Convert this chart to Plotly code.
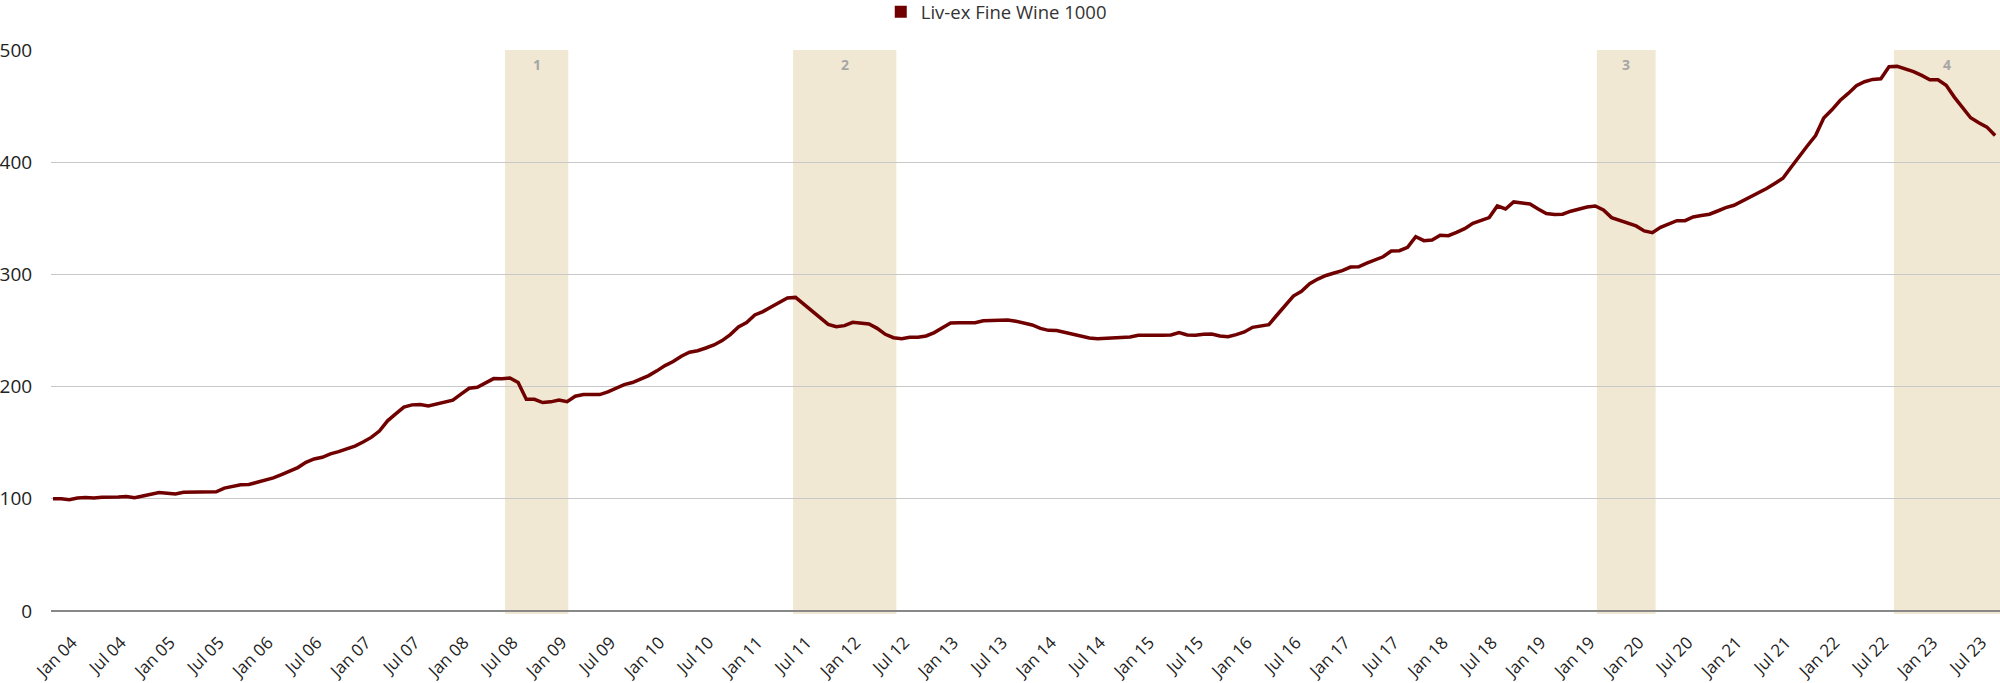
import pandas as pd
import plotly.graph_objects as go

# Monthly index values, Dec 2003 .. Oct 2023
values = [
    100.0, 100.0, 99.1, 100.6, 101.2, 100.7, 101.3, 101.2, 101.6, 102.1,
    100.9, 102.4, 104.1, 105.5, 105.0, 104.3, 105.8, 105.8, 105.6, 105.9,
    106.2, 109.5, 111.2, 112.4, 112.7, 114.8, 117.2, 118.6, 121.6, 124.3,
    127.8, 132.5, 135.5, 137.0, 140.0, 142.0, 144.7, 147.0, 150.6, 154.7,
    160.4, 169.5, 175.7, 181.7, 183.7, 184.0, 182.8, 184.3, 186.4, 187.9,
    193.2, 198.5, 199.4, 203.0, 207.1, 207.0, 207.7, 203.6, 188.7, 188.7,
    185.8, 186.4, 188.1, 186.6, 191.4, 192.9, 192.9, 192.9, 195.3, 198.5,
    201.8, 203.6, 206.5, 209.8, 214.0, 218.7, 222.3, 227.0, 230.6, 232.0,
    234.4, 237.1, 241.0, 246.3, 253.1, 257.0, 263.8, 266.8, 270.9, 275.0,
    278.9, 279.5, 273.3, 267.0, 260.8, 255.5, 253.4, 254.3, 257.3, 256.7,
    255.8, 251.9, 246.6, 243.6, 242.7, 243.9, 243.9, 245.1, 248.1, 252.5,
    256.7, 257.0, 257.0, 257.0, 258.7, 258.8, 259.1, 259.3, 258.2, 256.7,
    254.9, 251.9, 250.1, 249.9, 248.1, 246.3, 244.5, 243.3, 242.7, 243.2,
    243.6, 244.2, 244.2, 245.7, 245.5, 245.4, 245.7, 246.0, 248.1, 246.0,
    245.7, 246.6, 246.9, 245.1, 244.5, 246.3, 248.7, 252.8, 254.3, 255.2,
    263.8, 272.4, 280.7, 284.9, 291.7, 295.8, 299.0, 301.2, 303.3, 306.5,
    306.8, 310.1, 313.1, 315.7, 320.8, 321.1, 324.1, 333.6, 330.1, 330.7,
    334.8, 334.5, 337.5, 340.8, 345.5, 348.2, 350.6, 361.0, 358.3, 364.6,
    364.0, 362.8, 358.3, 354.2, 353.3, 353.6, 356.3, 358.3, 360.1, 361.0,
    357.4, 350.6, 348.2, 345.8, 343.2, 338.7, 337.2, 342.0, 344.9, 347.9,
    347.9, 351.2, 352.4, 353.6, 356.5, 359.5, 361.6, 365.2, 369.6, 372.9,
    376.5, 381.0, 385.7, 395.5, 404.5, 414.6, 423.8, 439.3, 446.7, 455.0,
    461.3, 468.2, 471.7, 473.8, 474.4, 485.1, 485.4, 483.0, 480.7, 477.4,
    473.5, 473.5, 468.5, 458.0, 448.5, 439.6, 435.1, 431.3, 423.8,
]
months = list(pd.date_range("2003-12-01", periods=len(values), freq="MS").strftime("%b %y"))

tick_months = [m for m in months if m.startswith("Jan") or m.startswith("Jul")]
tick_labels = [
    "Jan 04", "Jul 04", "Jan 05", "Jul 05", "Jan 06", "Jul 06", "Jan 07", "Jul 07",
    "Jan 08", "Jul 08", "Jan 09", "Jul 09", "Jan 10", "Jul 10", "Jan 11", "Jul 11",
    "Jan 12", "Jul 12", "Jan 13", "Jul 13", "Jan 14", "Jul 14", "Jan 15", "Jul 15",
    "Jan 16", "Jul 16", "Jan 17", "Jul 17", "Jan 18", "Jul 18", "Jan 19", "Jan 19",
    "Jan 20", "Jul 20", "Jan 21", "Jul 21", "Jan 22", "Jul 22", "Jan 23", "Jul 23",
]

# Shaded periods (in month-category units) and their labels
period_labels = ["1", "2", "3", "4"]
period_start = [55.4, 90.7, 189.2, 225.6]
period_end = [63.15, 103.35, 196.4, 238.7]

series_name = "Liv-ex Fine Wine 1000"
line_color = "#700000"
shade_color = "#F0E8D2"
font_family = "Open Sans, Noto Sans, sans-serif"

fig = go.Figure()
fig.add_trace(go.Scatter(
    x=months, y=values, mode="lines", name=series_name,
    line=dict(color=line_color, width=3.5), showlegend=False,
))
# legend entry with square swatch
fig.add_trace(go.Scatter(
    x=[None], y=[None], mode="markers", name=series_name,
    marker=dict(symbol="square", size=12, color=line_color), showlegend=True,
))

for lab, x0, x1 in zip(period_labels, period_start, period_end):
    fig.add_shape(type="rect", xref="x", yref="y", x0=x0, x1=x1, y0=-2.7, y1=500,
                  fillcolor=shade_color, line=dict(width=0), layer="below")
    fig.add_annotation(x=(x0 + x1) / 2, y=487.5, xref="x", yref="y", text=lab,
                       showarrow=False,
                       font=dict(family=font_family, size=14, color="#a6a6a6", weight="bold"))

fig.update_layout(
    width=2000, height=683,
    margin=dict(l=51, r=0, t=50, b=69, autoexpand=False),
    paper_bgcolor="white", plot_bgcolor="white",
    font=dict(family=font_family, color="#222222"),
    legend=dict(orientation="h", x=0.485, xanchor="center", y=1.067, yanchor="middle",
                font=dict(size=18.5, color="#333333"), bgcolor="rgba(0,0,0,0)"),
    xaxis=dict(
        type="category", range=[-0.245, 238.6],
        tickmode="array", tickvals=tick_months, ticktext=tick_labels,
        tickangle=-45, tickfont=dict(size=17, color="#222222"),
        ticks="outside", ticklen=11, tickcolor="rgba(0,0,0,0)", ticklabelshift=11,
        showgrid=False, zeroline=False, showline=False, automargin=False,
    ),
    yaxis=dict(
        range=[-2.7, 500], tickvals=[0, 100, 200, 300, 400, 500],
        tickfont=dict(size=19, color="#222222"),
        ticks="outside", ticklen=14, tickcolor="rgba(0,0,0,0)",
        showgrid=True, gridcolor="#c8c8c8", gridwidth=1,
        zeroline=True, zerolinecolor="#888888", zerolinewidth=1.5,
        showline=False, automargin=False,
    ),
)

fig.write_html(
    "out.html",
    config={"displayModeBar": False},
    post_script="document.body.style.margin='0';document.body.style.overflow='hidden';",
)
